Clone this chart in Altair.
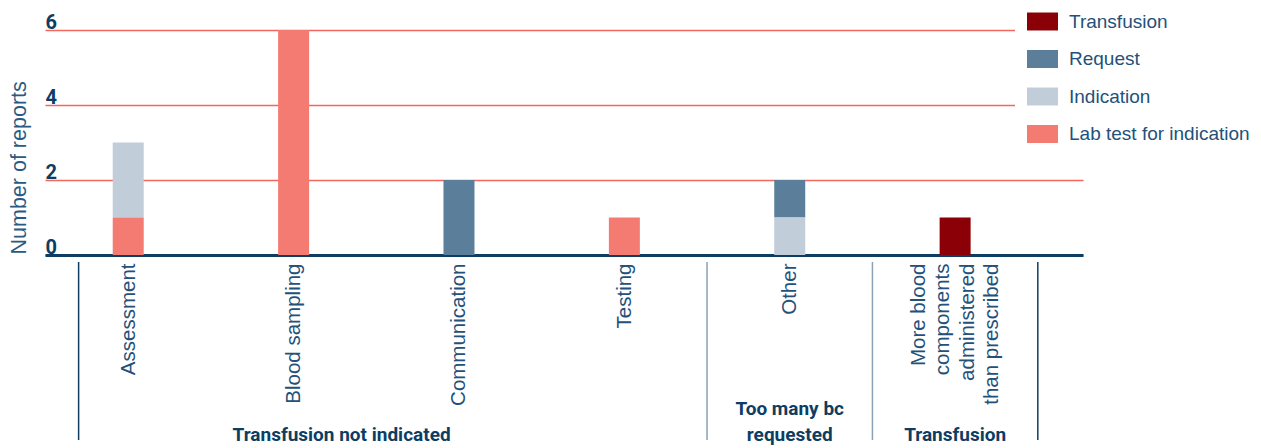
import json
import altair as alt
import pandas as pd

# ---- data ----
categories = ["Assessment", "Blood sampling", "Communication", "Testing", "Other",
              "More blood components administered than prescribed"]
category_lines = [["Assessment"], ["Blood sampling"], ["Communication"], ["Testing"], ["Other"],
                  ["More blood", "components", "administered", "than prescribed"]]
category_group = [0, 0, 0, 0, 1, 2]
group_lines = [["Transfusion not indicated"], ["Too many bc", "requested"], ["Transfusion"]]

series = ["Transfusion", "Request", "Indication", "Lab test for indication"]
transfusion = [0, 0, 0, 0, 0, 1]
request = [0, 0, 2, 0, 1, 0]
indication = [2, 0, 0, 0, 1, 0]
lab_test = [1, 6, 0, 1, 0, 0]
stack_order = ["Lab test for indication", "Indication", "Request", "Transfusion"]
y_ticks = [0, 2, 4, 6]

# ---- styles ----
colors = ["#8b0007", "#5b7f9a", "#c1cdd8", "#f47b72"]
dark = "#0d3d63"
mid = "#23517a"
bold_font = "Roboto, Liberation Sans, sans-serif"
regular = "Liberation Sans, Arial, sans-serif"
first_left_inset = 0.2
group_label_shift = [-0.21, 0.0, 0.0]
label_line_height = 24.3

values_by_series = dict(zip(series, [transfusion, request, indication, lab_test]))
positions = list(range(1, len(categories) + 1))
rows = []
for i, cat in enumerate(categories):
    for s in series:
        v = values_by_series[s][i]
        if v:
            rows.append({"category": cat, "pos": positions[i], "series": s,
                         "value": v, "rank": stack_order.index(s)})
df = pd.DataFrame(rows)

# group separators and group labels derived from the group membership
max_group_lines = max(len(g) for g in group_lines)
sep_rows = []
lab_rows = []
for g, lines in enumerate(group_lines):
    members = [positions[i] for i, gg in enumerate(category_group) if gg == g]
    start = min(members) - 0.5 + (first_left_inset if g == 0 else 0)
    sep_rows.append({"pos": start, "outer": g == 0})
    # pad with empty leading lines so that every label ends on the same baseline
    padded = [""] * (max_group_lines - len(lines)) + lines
    lab_rows.append({"pos": sum(members) / len(members) + group_label_shift[g],
                     "label": "\n".join(padded)})
    if g == len(group_lines) - 1:
        sep_rows.append({"pos": max(members) + 0.5, "outer": True})
sep_df = pd.DataFrame(sep_rows)
lab_df = pd.DataFrame(lab_rows)

# centre multi-line category labels on their bar
offset_cond = None
for i, lines in enumerate(category_lines):
    if len(lines) > 1:
        offset_cond = {"condition": {"test": f"datum.value == {positions[i]}",
                                     "value": -(len(lines) - 1) * label_line_height / 2},
                       "value": 0}

x_scale = alt.Scale(domain=[0.527, 6.743], nice=False, zero=False)
x_axis = alt.Axis(
    values=positions,
    labelExpr=f"{json.dumps(category_lines)}[datum.value - 1]",
    labelAngle=270, labelAlign="right", labelBaseline="middle", labelPadding=8,
    labelOffset=offset_cond,
    labelFont=regular, labelFontSize=20.5, labelColor=mid, labelLineHeight=label_line_height,
    labelOverlap=False, labelBound=False, labelFlush=False,
    grid=False, ticks=False, domainColor=dark, domainWidth=3, title=None,
)
x_enc = alt.X("pos:Q", scale=x_scale, axis=x_axis)

bars = alt.Chart(df).mark_bar(width=31).encode(
    x=x_enc,
    y=alt.Y("value:Q", stack="zero",
            scale=alt.Scale(domain=[0, 6], nice=False),
            axis=alt.Axis(values=y_ticks, grid=True, gridColor="#f3675e", gridWidth=1.3,
                          domain=False, ticks=False, labelAlign="left", labelPadding=0,
                          labelBaseline="alphabetic", labelOffset=-2, labelFont=bold_font,
                          labelFontWeight="bold", labelFontSize=20, labelColor=dark,
                          title="Number of reports", titleFont=regular, titleFontSize=21.5,
                          titleFontWeight="normal", titleColor="#2a5a82", titleAngle=270,
                          titleX=-20, titleY=224, titleAlign="left",
                          titleBaseline="alphabetic")),
    color=alt.Color("series:N", scale=alt.Scale(domain=series, range=colors),
                    legend=alt.Legend(orient="none", legendX=970, legendY=-36, title=None,
                                      fillColor="white", padding=12,
                                      symbolType="M-1,-0.58H1V0.58H-1Z", symbolSize=961,
                                      symbolStrokeWidth=0, symbolOpacity=1,
                                      labelFont=regular, labelFontSize=19, labelColor=mid,
                                      labelLimit=400, labelOffset=11, rowPadding=11.5)),
    order=alt.Order("rank:Q"),
)

seps = alt.Chart(sep_df).mark_rule(strokeWidth=1.5).encode(
    x=x_enc,
    y=alt.value(232), y2=alt.value(410),
    color=alt.condition("datum.outer", alt.value(dark), alt.value("#8ba1b5")),
)

glabels = alt.Chart(lab_df).mark_text(
    font=bold_font, fontWeight="bold", fontSize=19, color=dark, baseline="alphabetic",
    align="center", lineBreak="\n", lineHeight=26,
).encode(x=x_enc, y=alt.value(385), text="label:N")

chart = alt.layer(bars, seps, glabels).properties(
    width=1038, height=225,
    autosize=alt.AutoSizeParams(type="none"),
    padding={"left": 37, "top": 22, "right": 170, "bottom": 193},
).configure_view(stroke=None)

chart.save("out.html", embed_options={"renderer": "svg", "actions": False})
